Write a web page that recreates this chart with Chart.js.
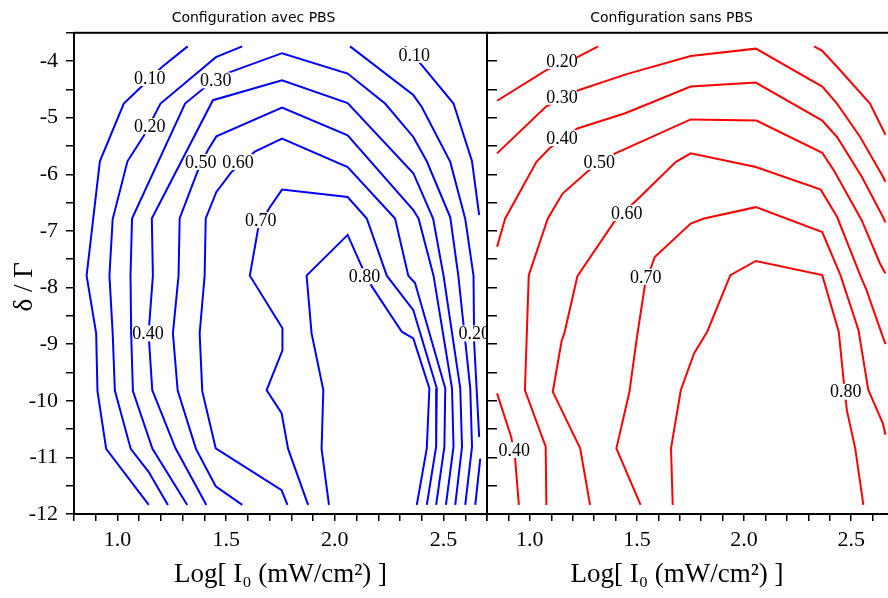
<!DOCTYPE html>
<html>
<head>
<meta charset="utf-8">
<script src="https://cdn.jsdelivr.net/npm/chart.js@4.4.0/dist/chart.umd.min.js"></script>
<style>
  html, body { margin: 0; padding: 0; background: #fff; overflow: hidden; }
  #wrap { position: relative; width: 888px; height: 598px; overflow: hidden; }
  #avec { position: absolute; left: 0; top: 0; }
  #sans { position: absolute; left: 443px; top: 0; }
</style>
</head>
<body>
<div id="wrap">
  <canvas id="avec" width="507" height="598"></canvas>
  <canvas id="sans" width="457" height="598"></canvas>
</div>
<script>
// contour lines, points are [Log I0, delta/Gamma]
// -- configuration avec PBS
var avec010Left = [[1.323,-3.74],[1.206,-4.10],[1.105,-4.47],[1.029,-4.75],[0.919,-5.77],[0.858,-7.79],[0.902,-8.81],[0.908,-9.83],[0.948,-10.85],[1.144,-11.84]];
var avec010Right = [[2.323,-3.74],[2.400,-4.07],[2.546,-4.75],[2.631,-5.77],[2.664,-6.72]];
var avec020Left = [[1.574,-3.74],[1.453,-3.93],[1.198,-4.75],[1.121,-5.32],[1.046,-5.77],[0.978,-6.79],[0.963,-7.79],[0.978,-8.81],[0.988,-9.82],[1.061,-10.85],[1.144,-11.26],[1.232,-11.84]];
var avec020Right = [[2.070,-3.74],[2.361,-4.60],[2.400,-4.81],[2.531,-5.78],[2.600,-6.79],[2.638,-7.79],[2.641,-8.98],[2.664,-10.64]];
var avec020Edge = [[2.669,-11.02],[2.646,-11.84]];
var avec030 = [[1.321,-11.84],[1.161,-10.85],[1.071,-9.83],[1.063,-8.81],[1.060,-7.79],[1.067,-6.78],[1.311,-4.75],[1.454,-4.30],[1.521,-4.19],[1.757,-3.86],[2.059,-4.22],[2.231,-4.75],[2.361,-5.34],[2.423,-5.77],[2.531,-6.76],[2.568,-7.79],[2.623,-9.78],[2.631,-10.81],[2.600,-11.84]];
var avec040 = [[1.409,-11.84],[1.267,-10.84],[1.160,-9.81],[1.143,-8.81],[1.163,-7.79],[1.158,-6.78],[1.439,-4.69],[1.757,-4.34],[2.059,-4.74],[2.361,-5.98],[2.452,-6.78],[2.500,-7.79],[2.577,-9.78],[2.585,-10.81],[2.554,-11.84]];
var avec050 = [[1.574,-11.84],[1.452,-11.51],[1.361,-10.85],[1.277,-9.82],[1.255,-8.81],[1.281,-7.79],[1.286,-6.78],[1.367,-5.96],[1.416,-5.57],[1.455,-5.33],[1.757,-4.82],[2.059,-5.31],[2.361,-6.63],[2.385,-6.78],[2.454,-7.79],[2.539,-9.78],[2.546,-10.81],[2.511,-11.84]];
var avec060 = [[1.782,-11.84],[1.755,-11.58],[1.452,-10.84],[1.390,-9.83],[1.378,-8.81],[1.401,-7.79],[1.406,-6.78],[1.455,-6.31],[1.524,-5.96],[1.632,-5.60],[1.757,-5.37],[2.059,-5.87],[2.277,-6.78],[2.338,-7.79],[2.369,-7.92],[2.508,-9.78],[2.504,-10.81],[2.466,-11.84]];
var avec070 = [[1.877,-11.84],[1.785,-10.85],[1.755,-10.22],[1.686,-9.81],[1.759,-9.11],[1.759,-8.72],[1.609,-7.79],[1.647,-6.96],[1.698,-6.60],[1.757,-6.27],[2.059,-6.40],[2.147,-6.78],[2.239,-7.79],[2.361,-8.40],[2.469,-9.78],[2.466,-10.81],[2.423,-11.84]];
var avec080 = [[1.973,-11.84],[1.939,-10.85],[1.947,-9.81],[1.893,-8.81],[1.870,-7.79],[2.059,-7.07],[2.120,-7.60],[2.170,-7.98],[2.308,-8.78],[2.361,-8.90],[2.435,-9.78],[2.423,-10.84],[2.377,-11.84]];

var avecLabelText = ['0.10', '0.20', '0.30', '0.50', '0.60', '0.70', '0.80', '0.10', '0.40', '0.20'];
var avecLabelX = [1.148, 1.148, 1.452, 1.383, 1.555, 1.659, 2.137, 2.365, 1.140, 2.641];
var avecLabelY = [-4.30, -5.15, -4.34, -5.78, -5.78, -6.81, -7.80, -3.89, -8.81, -8.81];

// -- configuration sans PBS
var sans020Left = [[0.847,-4.70],[1.077,-4.16],[1.222,-3.93],[1.319,-3.74]];
var sans020Right = [[2.327,-3.74],[2.365,-3.82],[2.434,-4.10],[2.588,-4.75],[2.660,-5.30]];
var sans030 = [[0.847,-5.63],[1.077,-4.80],[1.230,-4.51],[1.452,-4.23],[1.751,-3.91],[2.055,-3.78],[2.365,-4.45],[2.434,-4.75],[2.542,-5.34],[2.648,-6.04],[2.660,-6.13]];
var sans040 = [[0.847,-7.28],[0.885,-6.78],[1.031,-5.78],[1.092,-5.54],[1.222,-5.19],[1.445,-4.92],[1.751,-4.45],[2.055,-4.38],[2.365,-5.05],[2.434,-5.34],[2.549,-6.04],[2.648,-6.75],[2.660,-6.85]];
var sans040Edge = [[0.847,-9.87],[0.913,-10.64],[0.931,-11.02],[0.949,-11.84]];
var sans050 = [[1.077,-11.84],[1.074,-10.81],[0.977,-9.81],[0.995,-7.78],[1.084,-6.78],[1.153,-6.34],[1.276,-5.93],[1.399,-5.63],[1.751,-5.03],[2.058,-5.05],[2.365,-5.62],[2.419,-5.93],[2.549,-6.81],[2.634,-7.57],[2.660,-7.75]];
var sans060 = [[1.281,-11.84],[1.235,-10.84],[1.153,-10.20],[1.107,-9.84],[1.149,-8.93],[1.161,-8.81],[1.222,-7.80],[1.399,-6.81],[1.514,-6.40],[1.682,-5.78],[1.751,-5.63],[2.055,-5.87],[2.358,-6.27],[2.434,-6.75],[2.542,-7.78],[2.572,-8.05],[2.648,-8.87],[2.660,-9.00]];
var sans070 = [[1.517,-11.84],[1.404,-10.84],[1.465,-9.84],[1.498,-8.93],[1.537,-7.96],[1.583,-7.46],[1.751,-6.87],[1.813,-6.78],[2.055,-6.58],[2.365,-7.02],[2.450,-7.78],[2.534,-8.75],[2.580,-9.81],[2.648,-10.40],[2.660,-10.60]];
var sans080 = [[1.667,-11.84],[1.659,-10.84],[1.705,-9.81],[1.767,-9.16],[1.828,-8.78],[1.936,-7.78],[2.055,-7.53],[2.365,-7.78],[2.442,-8.78],[2.465,-9.64],[2.480,-10.17],[2.519,-10.84],[2.557,-11.84]];

var sansLabelText = ['0.20', '0.30', '0.40', '0.50', '0.60', '0.70', '0.80', '0.40'];
var sansLabelX = [1.150, 1.150, 1.150, 1.324, 1.452, 1.541, 2.475, 0.927];
var sansLabelY = [-4.00, -4.63, -5.36, -5.78, -6.68, -7.81, -9.84, -10.87];

// axes
var xTickValues = [0.8, 0.9, 1.0, 1.1, 1.2, 1.3, 1.4, 1.5, 1.6, 1.7, 1.8, 1.9, 2.0, 2.1, 2.2, 2.3, 2.4, 2.5, 2.6, 2.7];
var xTickLabels = ['', '', '1.0', '', '', '', '', '1.5', '', '', '', '', '2.0', '', '', '', '', '2.5', '', ''];
var yTickValues = [-12, -11.5, -11, -10.5, -10, -9.5, -9, -8.5, -8, -7.5, -7, -6.5, -6, -5.5, -5, -4.5, -4, -3.5];
var yTickLabels = ['-12', '', '-11', '', '-10', '', '-9', '', '-8', '', '-7', '', '-6', '', '-5', '', '-4', ''];

var serif = "'Liberation Serif', 'Times New Roman', serif";
var nb = '\u00a0\u00a0\u00a0\u00a0';

function lineSet(points, color) {
    return {
        data: points.map(function (p) { return {x: p[0], y: p[1]}; }),
        showLine: true,
        borderColor: color,
        borderWidth: 2,
        pointRadius: 0,
        fill: false,
        tension: 0,
        clip: 0,
        yAxisID: 'y'
    };
}

function labelPlugin(texts, xs, ys) {
    return {
        id: 'contourLabels',
        afterDatasetsDraw: function (chart) {
            var ctx = chart.ctx, a = chart.chartArea;
            var sx = chart.scales.x, sy = chart.scales.y;
            ctx.save();
            ctx.beginPath();
            ctx.rect(a.left, a.top, a.right - a.left, a.bottom - a.top);
            ctx.clip();
            ctx.font = '18px ' + serif;
            ctx.textAlign = 'center';
            ctx.textBaseline = 'middle';
            texts.forEach(function (t, i) {
                var px = sx.getPixelForValue(xs[i]);
                var py = sy.getPixelForValue(ys[i]);
                var w = ctx.measureText(t).width;
                ctx.fillStyle = '#fff';
                ctx.fillRect(px - w / 2 + 1, py - 8, w - 2, 16);
                ctx.fillStyle = '#000';
                ctx.fillText(t, px, py + 1);
            });
            ctx.restore();
        }
    };
}

var framePlugin = {
    id: 'frame',
    afterDatasetsDraw: function (chart) {
        var a = chart.chartArea, ctx = chart.ctx;
        ctx.save();
        ctx.strokeStyle = '#000';
        ctx.lineWidth = 2;
        ctx.strokeRect(a.left, a.top, a.right - a.left, a.bottom - a.top);
        ctx.restore();
    }
};

function xScale(titleText) {
    return {
        type: 'linear', position: 'bottom', min: 0.8, max: 2.7,
        afterBuildTicks: function (s) { s.ticks = xTickValues.map(function (v) { return {value: v}; }); },
        ticks: {
            autoSkip: false, maxRotation: 0, padding: 6, color: '#000',
            font: {family: serif, size: 22},
            callback: function (v, i) { return xTickLabels[i]; }
        },
        grid: {drawOnChartArea: false, drawTicks: true, tickLength: 7, color: '#000', lineWidth: 1.5},
        border: {display: false},
        title: {display: true, text: titleText, color: '#000', font: {family: serif, size: 27}, padding: {top: 0, bottom: 7}},
        afterFit: function (s) { s.height = 84; }
    };
}

function commonOptions(title) {
    return {
        responsive: false,
        animation: false,
        events: [],
        layout: {padding: 0},
        plugins: {
            legend: {display: false},
            tooltip: {enabled: false},
            title: {display: true, text: title, color: '#000', font: {family: 'DejaVu Sans', size: 14, weight: 'normal'}, padding: {top: 10, bottom: 6}}
        }
    };
}

// left panel
var avecOptions = commonOptions('Configuration avec PBS');
avecOptions.scales = {
    x: xScale('Log[ I\u2080 (mW/cm\u00b2) ]'),
    y: {
        type: 'linear', position: 'left', min: -12, max: -3.5,
        afterBuildTicks: function (s) { s.ticks = yTickValues.map(function (v) { return {value: v}; }); },
        ticks: {autoSkip: false, padding: 8, color: '#000', font: {family: serif, size: 22},
            callback: function (v, i) { return yTickLabels[i]; }},
        grid: {drawOnChartArea: false, drawTicks: true, tickLength: 8, color: '#000', lineWidth: 1.5},
        border: {display: false},
        title: {display: true, text: '\u03b4 / \u0393' + nb, color: '#000', font: {family: serif, size: 27}, padding: {top: 9, bottom: 0}},
        afterFit: function (s) { s.width = 74; }
    },
    y2: {
        type: 'linear', position: 'right', min: -12, max: -3.5,
        afterBuildTicks: function (s) { s.ticks = yTickValues.map(function (v) { return {value: v}; }); },
        ticks: {autoSkip: false, padding: 0, callback: function () { return ''; }},
        grid: {drawOnChartArea: false, drawTicks: true, tickLength: 10, color: '#000', lineWidth: 1.5},
        border: {display: false},
        afterFit: function (s) { s.width = 20; }
    }
};

new Chart(document.getElementById('avec').getContext('2d'), {
    type: 'scatter',
    data: {
        datasets: [avec010Left, avec010Right, avec020Left, avec020Right, avec020Edge, avec030, avec040,
            avec050, avec060, avec070, avec080].map(function (c) { return lineSet(c, '#0000ff'); })
    },
    options: avecOptions,
    plugins: [labelPlugin(avecLabelText, avecLabelX, avecLabelY), framePlugin]
});

// right panel
var sansOptions = commonOptions('Configuration sans PBS');
sansOptions.scales = {
    x: xScale('Log[ I\u2080 (mW/cm\u00b2) ]' + nb),
    y: {
        type: 'linear', position: 'left', min: -12, max: -3.5,
        ticks: {display: false},
        grid: {display: false},
        border: {display: false},
        afterFit: function (s) { s.width = 44; }
    }
};

new Chart(document.getElementById('sans').getContext('2d'), {
    type: 'scatter',
    data: {
        datasets: [sans020Left, sans020Right, sans030, sans040, sans040Edge, sans050, sans060,
            sans070, sans080].map(function (c) { return lineSet(c, '#ff0000'); })
    },
    options: sansOptions,
    plugins: [labelPlugin(sansLabelText, sansLabelX, sansLabelY), framePlugin]
});
</script>
</body>
</html>
